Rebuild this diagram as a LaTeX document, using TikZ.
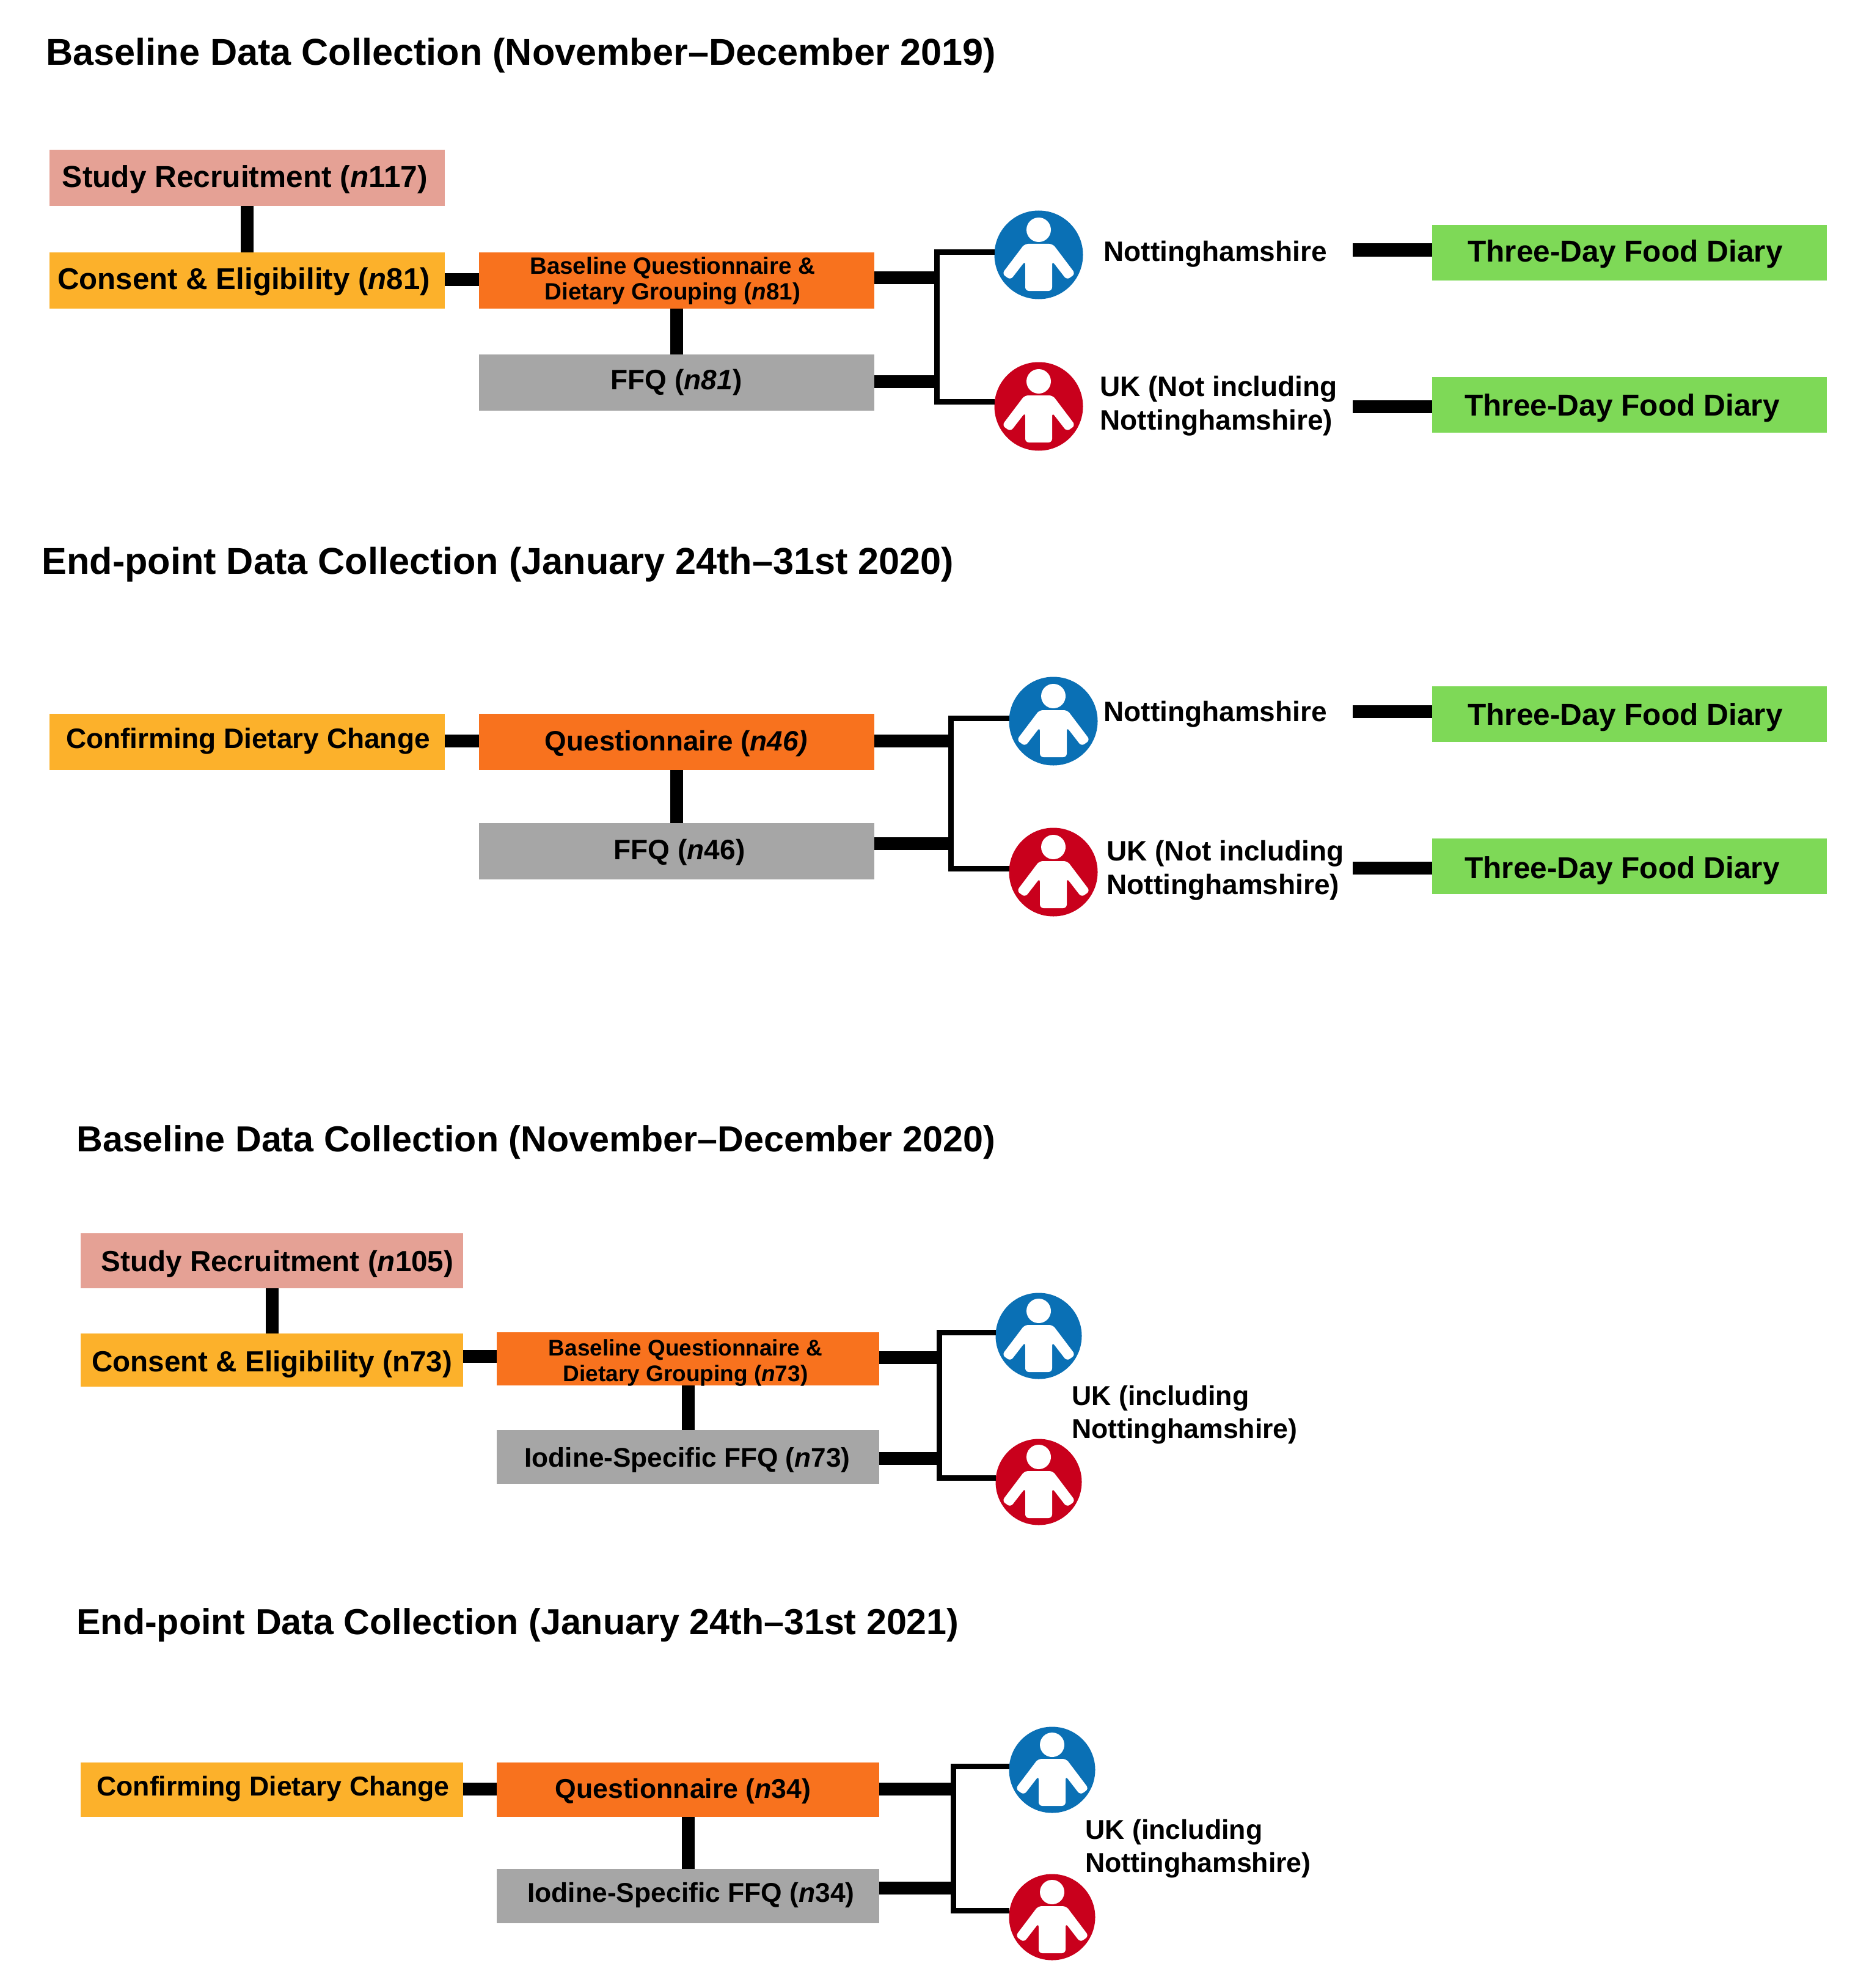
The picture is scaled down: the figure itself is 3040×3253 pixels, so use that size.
\documentclass[tikz,border=0pt]{standalone}
\usepackage{fontspec}
\setmainfont{Liberation Sans}
\definecolor{cpink}{HTML}{E5A195}
\definecolor{cyellow}{HTML}{FCB12B}
\definecolor{corange}{HTML}{F8721E}
\definecolor{cgray}{HTML}{A6A6A6}
\definecolor{cgreen}{HTML}{7ED957}
\definecolor{cblue}{HTML}{0A70B5}
\definecolor{cred}{HTML}{C9001C}
\newcommand{\fpx}[2]{\fontsize{#1}{#2}\bfseries\selectfont}
\newcommand{\bx}[6]{\node[box,fill=#6,minimum width={(#4-#2)*0.5pt},minimum height={(#5-#3)*0.5pt}] (#1) at ({(#2+#4)/2},{(#3+#5)/2}) {};}
\tikzset{
  box/.style={inner sep=0pt,outer sep=0pt,draw=none},
  title/.style={anchor=base west,inner sep=0pt,font=\fpx{30.6}{36}},
  lbl/.style={anchor=base,inner sep=0pt,font=\fpx{24.8}{29}},
  small/.style={inner sep=0pt,align=center,font=\fpx{19.3}{21}},
  place/.style={inner sep=0pt,align=left,anchor=base west,font=\fpx{23}{27.5}},
  disc/.style={circle,inner sep=0pt,outer sep=0pt,minimum size=72.5pt},
  fat/.style={line width=10.5pt,line cap=butt},
  thin/.style={line width=4.5pt,miter limit=10},
  person/.pic={
    \fill[white] (0,-41) circle [radius=20];
    \fill[white,rounded corners=3pt] (-23,-18) -- (23,-18) -- (60,31) -- (46,41) -- (22,10) -- (22,59) -- (-22,59) -- (-22,10) -- (-46,41) -- (-60,31) -- cycle;
  }
}
\begin{document}
\begin{tikzpicture}[x=0.5pt,y=-0.5pt]
\useasboundingbox (0,0) rectangle (3040,3253);
\fill[white] (0,0) rectangle (3040,3253);
% Panel 1
\node[title] (t1) at (75,107) {Baseline Data Collection (November–December 2019)};
\bx{s1}{81}{245}{728}{337}{cpink}
\bx{c1}{81}{413}{728}{505}{cyellow}
\bx{q1}{784}{413}{1431}{505}{corange}
\bx{f1}{784}{580}{1431}{672}{cgray}
\bx{g1a}{2344}{368}{2990}{459}{cgreen}
\bx{g1b}{2344}{617}{2990}{708}{cgreen}
\node[lbl] (s1t) at (401,307) {Study Recruitment (\textit{n}117)};
\node[lbl,font=\fpx{24.6}{29}] (c1t) at (399,473) {Consent \& Eligibility (\textit{n}81)};
\node[small] (q1t) at (1101,460) {Baseline Questionnaire \&\\Dietary Grouping (\textit{n}81)};
\node[lbl,font=\fpx{23}{27}] (f1t) at (1107,637) {FFQ (\textit{n81})};
\node[lbl] (g1at) at (2660,429) {Three-Day Food Diary};
\node[lbl] (g1bt) at (2655,680) {Three-Day Food Diary};
\node[disc,fill=cblue] (b1) at (1700,417) {};
\node[disc,fill=cred] (r1) at (1700,665) {};
\pic at (b1.center) {person};
\pic at (r1.center) {person};
\node[place] (b1t) at (1806,427) {Nottinghamshire};
\node[place] (r1t) at (1800,703) {UK (Not including\\Nottinghamshire)};
\coordinate (e1) at (728,457);
\coordinate (j1a) at (1533,454); \coordinate (j1b) at (1533,624);
\coordinate (k1a) at (1533,412); \coordinate (k1b) at (1533,657);
\coordinate (l1a) at (2214,409); \coordinate (l1b) at (2214,665);
\draw[fat] (s1.south) -- (c1.north);
\draw[fat] (e1 -| c1.east) -- (e1 -| q1.west);
\draw[fat] (q1.south) -- (f1.north);
\draw[fat] (j1a -| q1.east) -- (j1a);
\draw[fat] (j1b -| f1.east) -- (j1b);
\draw[thin] (k1a -| b1.west) -- (k1a) -- (k1b) -- (k1b -| r1.west);
\draw[fat] (l1a) -- (l1a -| g1a.west);
\draw[fat] (l1b) -- (l1b -| g1b.west);
% Panel 2
\node[title] (t2) at (68,939) {End-point Data Collection (January 24th–31st 2020)};
\bx{c2}{81}{1168}{728}{1260}{cyellow}
\bx{q2}{784}{1168}{1431}{1260}{corange}
\bx{f2}{784}{1347}{1431}{1439}{cgray}
\bx{g2a}{2344}{1123}{2990}{1214}{cgreen}
\bx{g2b}{2344}{1372}{2990}{1463}{cgreen}
\node[lbl,font=\fpx{23}{27}] (c2t) at (406,1224) {Confirming Dietary Change};
\node[lbl,font=\fpx{22.9}{27}] (q2t) at (1107,1228) {Questionnaire (\textit{n46)}};
\node[lbl,font=\fpx{23}{27}] (f2t) at (1112,1406) {FFQ (\textit{n}46)};
\node[lbl] (g2at) at (2660,1186) {Three-Day Food Diary};
\node[lbl] (g2bt) at (2655,1437) {Three-Day Food Diary};
\node[disc,fill=cblue] (b2) at (1724,1180) {};
\node[disc,fill=cred] (r2) at (1724,1427) {};
\pic at (b2.center) {person};
\pic at (r2.center) {person};
\node[place] (b2t) at (1806,1180) {Nottinghamshire};
\node[place] (r2t) at (1811,1463) {UK (Not including\\Nottinghamshire)};
\coordinate (e2) at (728,1212);
\coordinate (j2a) at (1556,1212); \coordinate (j2b) at (1556,1380);
\coordinate (k2a) at (1556,1175); \coordinate (k2b) at (1556,1421);
\coordinate (l2a) at (2214,1164); \coordinate (l2b) at (2214,1420);
\draw[fat] (e2 -| c2.east) -- (e2 -| q2.west);
\draw[fat] (q2.south) -- (f2.north);
\draw[fat] (j2a -| q2.east) -- (j2a);
\draw[fat] (j2b -| f2.east) -- (j2b);
\draw[thin] (k2a -| b2.west) -- (k2a) -- (k2b) -- (k2b -| r2.west);
\draw[fat] (l2a) -- (l2a -| g2a.west);
\draw[fat] (l2b) -- (l2b -| g2b.west);
% Panel 3
\node[title,font=\fpx{29.6}{35}] (t3) at (125,1884) {Baseline Data Collection (November–December 2020)};
\bx{s3}{132}{2018}{758}{2108}{cpink}
\bx{c3}{132}{2182}{758}{2269}{cyellow}
\bx{q3}{813}{2180}{1439}{2267}{corange}
\bx{f3}{813}{2340}{1439}{2428}{cgray}
\node[lbl,font=\fpx{23.8}{28}] (s3t) at (454,2080) {Study Recruitment (\textit{n}105)};
\node[lbl,font=\fpx{23.8}{28}] (c3t) at (445,2244) {Consent \& Eligibility (n73)};
\node[small,font=\fpx{18.5}{21}] (q3t) at (1122,2230) {Baseline Questionnaire \&\\Dietary Grouping (\textit{n}73)};
\node[lbl,font=\fpx{22.1}{27}] (f3t) at (1125,2400) {Iodine-Specific FFQ (\textit{n}73)};
\node[disc,fill=cblue,minimum size=70.5pt] (b3) at (1700,2186) {};
\node[disc,fill=cred,minimum size=70.5pt] (r3) at (1700,2425) {};
\pic at (b3.center) {person};
\pic at (r3.center) {person};
\node[place,font=\fpx{22.3}{27}] (p3t) at (1754,2353) {UK (including\\Nottinghamshire)};
\coordinate (e3) at (758,2219);
\coordinate (j3a) at (1537,2221); \coordinate (j3b) at (1537,2386);
\coordinate (k3a) at (1537,2180); \coordinate (k3b) at (1537,2418);
\draw[fat] (s3.south) -- (c3.north);
\draw[fat] (e3 -| c3.east) -- (e3 -| q3.west);
\draw[fat] (q3.south) -- (f3.north);
\draw[fat] (j3a -| q3.east) -- (j3a);
\draw[fat] (j3b -| f3.east) -- (j3b);
\draw[thin] (k3a -| b3.west) -- (k3a) -- (k3b) -- (k3b -| r3.west);
% Panel 4
\node[title,font=\fpx{29.6}{35}] (t4) at (125,2674) {End-point Data Collection (January 24th–31st 2021)};
\bx{c4}{132}{2884}{758}{2973}{cyellow}
\bx{q4}{813}{2884}{1439}{2973}{corange}
\bx{f4}{813}{3058}{1439}{3147}{cgray}
\node[lbl,font=\fpx{22.3}{27}] (c4t) at (447,2938) {Confirming Dietary Change};
\node[lbl,font=\fpx{22.3}{27}] (q4t) at (1118,2942) {Questionnaire (\textit{n}34)};
\node[lbl,font=\fpx{22.2}{27}] (f4t) at (1131,3112) {Iodine-Specific FFQ (\textit{n}34)};
\node[disc,fill=cblue,minimum size=70.5pt] (b4) at (1722,2896) {};
\node[disc,fill=cred,minimum size=70.5pt] (r4) at (1722,3137) {};
\pic at (b4.center) {person};
\pic at (r4.center) {person};
\node[place,font=\fpx{22.3}{27}] (p4t) at (1776,3063) {UK (including\\Nottinghamshire)};
\coordinate (e4) at (758,2927);
\coordinate (j4a) at (1560,2927); \coordinate (j4b) at (1560,3089);
\coordinate (k4a) at (1560,2890); \coordinate (k4b) at (1560,3126);
\draw[fat] (e4 -| c4.east) -- (e4 -| q4.west);
\draw[fat] (q4.south) -- (f4.north);
\draw[fat] (j4a -| q4.east) -- (j4a);
\draw[fat] (j4b -| f4.east) -- (j4b);
\draw[thin] (k4a -| b4.west) -- (k4a) -- (k4b) -- (k4b -| r4.west);
\end{tikzpicture}
\end{document}
